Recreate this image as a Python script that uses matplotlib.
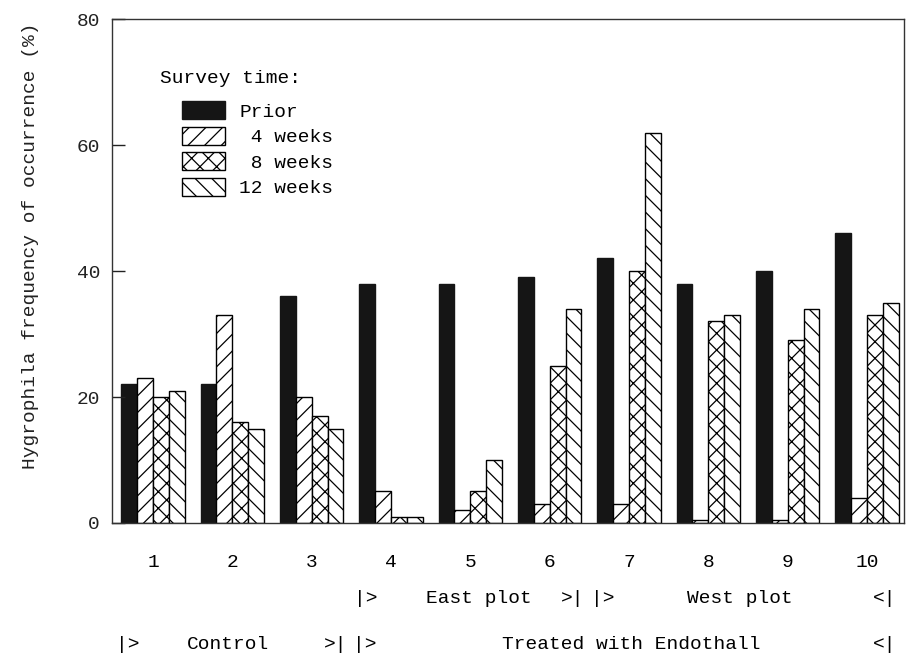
import numpy as np
import matplotlib
matplotlib.use('Agg')
import matplotlib.pyplot as plt
from matplotlib.patches import Patch

# Data
sites = ['1', '2', '3', '4', '5', '6', '7', '8', '9', '10']
prior = [22, 22, 36, 38, 38, 39, 42, 38, 40, 46]
wk4 = [23, 33, 20, 5, 2, 3, 3, 0.5, 0.5, 4]
wk8 = [20, 16, 17, 1, 5, 25, 40, 32, 29, 33]
wk12 = [21, 15, 15, 1, 10, 34, 62, 33, 34, 35]
series_labels = ['Prior', ' 4 weeks', ' 8 weeks', '12 weeks']

plt.rcParams['font.family'] = ['Liberation Mono', 'DejaVu Sans Mono']
plt.rcParams['hatch.linewidth'] = 0.9

fig = plt.figure(figsize=(9.08, 6.61), dpi=100)
ax = fig.add_axes([0.1233, 0.2088, 0.8723, 0.7622])

x = np.arange(1, len(sites) + 1)
w = 0.2
styles = [dict(facecolor='#151515', edgecolor='#151515'),
          dict(facecolor='white', edgecolor='black', hatch='//'),
          dict(facecolor='white', edgecolor='black', hatch='xx'),
          dict(facecolor='white', edgecolor='black', hatch='\\\\')]
for i, (vals, st) in enumerate(zip([prior, wk4, wk8, wk12], styles)):
    ax.bar(x + (i - 1.5) * w, vals, width=w, linewidth=1.0, **st)

ax.set_xlim(0.483, 10.466)
ax.set_ylim(0, 80)
ax.set_yticks([0, 20, 40, 60, 80])
ax.tick_params(axis='y', direction='in', length=9, width=1, labelsize=14,
               colors='#222222', pad=8.6)
ax.tick_params(axis='x', length=0, pad=22, labelsize=14)
ax.set_xticks(x)
ax.set_xticklabels(sites)
for s in ax.spines.values():
    s.set_linewidth(1.0)
    s.set_color('#333333')

ax.set_ylabel('Hygrophila frequency of occurrence (%)', fontsize=14,
              color='#222222')
ax.yaxis.set_label_coords(-0.092, 0.55)

# legend
handles = [Patch(**st, linewidth=1.0) for st in styles]
ax.text(0.0606, 0.883, 'Survey time:', transform=ax.transAxes,
        fontsize=14, va='center', ha='left')
ax.legend(handles, series_labels, loc='upper left', bbox_to_anchor=(0.0884, 0.837),
          frameon=False, handlelength=2.2, handleheight=1.05, labelspacing=0.3,
          handletextpad=0.75, borderaxespad=0, borderpad=0, fontsize=14)

# group annotations below the axis
trans = ax.get_xaxis_transform()
row2 = [(3.685, '|>'), (5.109, 'East plot'), (6.294, '>|'), (6.673, '|>'),
        (8.40, 'West plot'), (10.227, '<|')]
row3 = [(0.685, '|>'), (1.945, 'Control'), (3.307, '>|'), (3.672, '|>'),
        (7.025, 'Treated with Endothall'), (10.227, '<|')]
for xp, t in row2:
    ax.text(xp, -0.149, t, transform=trans, ha='center', va='center', fontsize=14)
for xp, t in row3:
    ax.text(xp, -0.242, t, transform=trans, ha='center', va='center', fontsize=14)

fig.savefig('out.png', dpi=100)
